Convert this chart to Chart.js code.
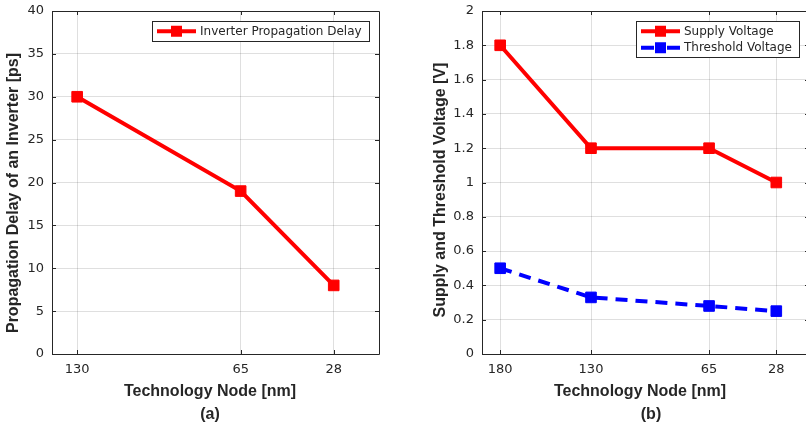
<!DOCTYPE html>
<html>
<head>
<meta charset="utf-8">
<script src="https://cdn.jsdelivr.net/npm/chart.js@4"></script>
<style>
  html, body { margin: 0; padding: 0; background: #fff; overflow: hidden; width: 806px; height: 427px; }
  .wrap { position: absolute; top: 0; height: 427px; }
  .wrap canvas { display: block; }
</style>
</head>
<body>
<div class="wrap" style="left:0px; width:400px;"><canvas id="chartA" width="400" height="427" style="width:400px;height:427px;"></canvas></div>
<div class="wrap" style="left:400px; width:412px;"><canvas id="chartB" width="412" height="427" style="width:412px;height:427px;"></canvas></div>
<script>
// ---- Data ----
const nodesA = [130, 65, 28];
const delayA = [30, 19, 8];

const nodesB = [180, 130, 65, 28];
const supplyB = [1.8, 1.2, 1.2, 1.0];
const thresholdB = [0.5, 0.33, 0.28, 0.25];

const labelA = 'Inverter Propagation Delay';
const labelSupply = 'Supply Voltage';
const labelThreshold = 'Threshold Voltage';

const xTitle = 'Technology Node [nm]';
const yTitleA = 'Propagation Delay of an Inverter [ps]';
const yTitleB = 'Supply and Threshold Voltage [V]';
const subA = '(a)';
const subB = '(b)';

// ---- Styling helpers ----
const AX = '#262626';
const GRID = 'rgba(38,38,38,0.15)';
const TICKFONT = { family: '"DejaVu Sans", sans-serif', size: 13 };

function pts(xs, ys) { return xs.map((x, i) => ({ x: x, y: ys[i] })); }

const boxPlugin = {
  id: 'mlBox',
  afterDraw(chart) {
    const ctx = chart.ctx, a = chart.chartArea;
    const xs = chart.scales.x, ys = chart.scales.y;
    ctx.save();
    ctx.strokeStyle = AX;
    ctx.lineWidth = 1;
    ctx.beginPath();
    ctx.rect(Math.round(a.left) + 0.5, Math.round(a.top) + 0.5, Math.round(a.right - a.left), Math.round(a.bottom - a.top));
    ctx.stroke();
    const L = 4;
    ctx.beginPath();
    ys.ticks.forEach(t => {
      const y = Math.round(ys.getPixelForValue(t.value)) + 0.5;
      ctx.moveTo(a.left, y); ctx.lineTo(a.left + L, y);
      ctx.moveTo(a.right, y); ctx.lineTo(a.right - L, y);
    });
    xs.ticks.forEach(t => {
      const x = Math.round(xs.getPixelForValue(t.value)) + 0.5;
      ctx.moveTo(x, a.bottom); ctx.lineTo(x, a.bottom - L);
      ctx.moveTo(x, a.top); ctx.lineTo(x, a.top + L);
    });
    ctx.stroke();
    ctx.restore();
  }
};

const legendPlugin = {
  id: 'mlLegend',
  afterDraw(chart) {
    const ctx = chart.ctx, a = chart.chartArea;
    const ds = chart.data.datasets;
    ctx.save();
    ctx.font = '12px "DejaVu Sans", sans-serif';
    const textW = Math.max(...ds.map(d => ctx.measureText(d.label).width));
    const lineLen = 39, padL = 5, gap = 4, padR = 7, rowH = 16.5, padV = 1.5;
    const w = Math.round(padL + lineLen + gap + textW + padR);
    const h = Math.round(ds.length * rowH + 2 * padV);
    const right = Math.round(a.right) - 10, top = Math.round(a.top) + 10;
    const left = right - w;
    ctx.fillStyle = '#fff';
    ctx.fillRect(left, top, w, h);
    ctx.strokeStyle = AX; ctx.lineWidth = 1;
    ctx.strokeRect(left + 0.5, top + 0.5, w, h);
    ds.forEach((d, i) => {
      const cy = top + padV + rowH * (i + 0.5) + 0.5;
      const x0 = left + padL, x1 = x0 + lineLen;
      ctx.strokeStyle = d.borderColor; ctx.lineWidth = d.borderWidth;
      ctx.beginPath();
      if (d.borderDash && d.borderDash.length) {
        ctx.moveTo(x0, cy); ctx.lineTo(x0 + 13, cy);
        ctx.moveTo(x1 - 13, cy); ctx.lineTo(x1, cy);
      } else {
        ctx.moveTo(x0, cy); ctx.lineTo(x1, cy);
      }
      ctx.stroke();
      ctx.fillStyle = d.borderColor;
      ctx.fillRect((x0 + x1) / 2 - 5.5, cy - 5.5, 11, 11);
      ctx.fillStyle = AX; ctx.textBaseline = 'middle'; ctx.textAlign = 'left';
      ctx.fillText(d.label, x1 + gap, cy + 0.5);
    });
    ctx.restore();
  }
};

const titlePlugin = {
  id: 'mlTitles',
  afterDraw(chart, args, opts) {
    const ctx = chart.ctx;
    ctx.save();
    ctx.fillStyle = AX;
    ctx.font = 'bold 16px "Liberation Sans", Arial, sans-serif';
    ctx.textAlign = 'center';
    ctx.textBaseline = 'alphabetic';
    ctx.fillText(opts.xText, opts.xX, opts.xY);
    ctx.fillText(opts.subText, opts.subX, opts.subY);
    ctx.translate(opts.yX, opts.yY);
    ctx.rotate(-Math.PI / 2);
    ctx.fillText(opts.yText, 0, 0);
    ctx.restore();
  }
};

function lineDS(label, xs, ys, color, dash) {
  return {
    label: label,
    data: pts(xs, ys),
    borderColor: color,
    backgroundColor: color,
    borderWidth: 4,
    borderDash: dash || [],
    pointStyle: 'rect',
    pointRadius: 7.5,
    pointHoverRadius: 7.5,
    pointBorderWidth: 1,
    pointBackgroundColor: color,
    pointBorderColor: color,
    tension: 0,
    fill: false
  };
}

function makeChart(id, cfg) {
  return new Chart(document.getElementById(id), {
    type: 'line',
    data: { datasets: cfg.datasets },
    options: {
      responsive: false,
      animation: false,
      devicePixelRatio: 1,
      events: [],
      layout: { autoPadding: false, padding: { top: 11, right: cfg.padRight, left: 0, bottom: 0 } },
      plugins: {
        legend: { display: false },
        tooltip: { enabled: false },
        mlTitles: cfg.titles
      },
      scales: {
        x: {
          type: 'linear',
          reverse: true,
          min: cfg.xMin, max: cfg.xMax,
          afterBuildTicks: (s) => { s.ticks = cfg.xTicks.map(v => ({ value: v })); },
          afterFit: (s) => { s.height = 73; s.paddingLeft = 0; s.paddingRight = 0; },
          grid: { color: GRID, drawTicks: false, lineWidth: 1 },
          border: { display: false },
          ticks: { color: AX, font: TICKFONT, padding: 8, maxRotation: 0, autoSkip: false,
                   callback: (v) => String(v) }
        },
        y: {
          type: 'linear',
          min: cfg.yMin, max: cfg.yMax,
          afterFit: (s) => { s.width = cfg.yWidth; s.paddingTop = 0; s.paddingBottom = 0; },
          grid: { color: GRID, drawTicks: false, lineWidth: 1 },
          border: { display: false },
          ticks: { color: AX, font: TICKFONT, padding: 8, stepSize: cfg.yStep,
                   callback: cfg.yFmt }
        }
      }
    },
    plugins: [boxPlugin, legendPlugin, titlePlugin]
  });
}

makeChart('chartA', {
  datasets: [lineDS(labelA, nodesA, delayA, '#ff0000')],
  padRight: 21, yWidth: 52,
  xMin: 10, xMax: 140, xTicks: nodesA,
  yMin: 0, yMax: 40, yStep: 5,
  yFmt: (v) => String(v),
  titles: { xText: xTitle, xX: 210, xY: 396, subText: subA, subX: 210, subY: 419,
            yText: yTitleA, yX: 17.5, yY: 193 }
});

makeChart('chartB', {
  datasets: [
    lineDS(labelSupply, nodesB, supplyB, '#ff0000'),
    lineDS(labelThreshold, nodesB, thresholdB, '#0000ff', [12, 8])
  ],
  padRight: 3, yWidth: 82,
  xMin: 10, xMax: 190, xTicks: nodesB,
  yMin: 0, yMax: 2, yStep: 0.2,
  yFmt: (v) => String(Math.round(v * 10) / 10),
  titles: { xText: xTitle, xX: 240, xY: 396, subText: subB, subX: 251, subY: 419,
            yText: yTitleB, yX: 44.5, yY: 190 }
});
</script>
</body>
</html>
